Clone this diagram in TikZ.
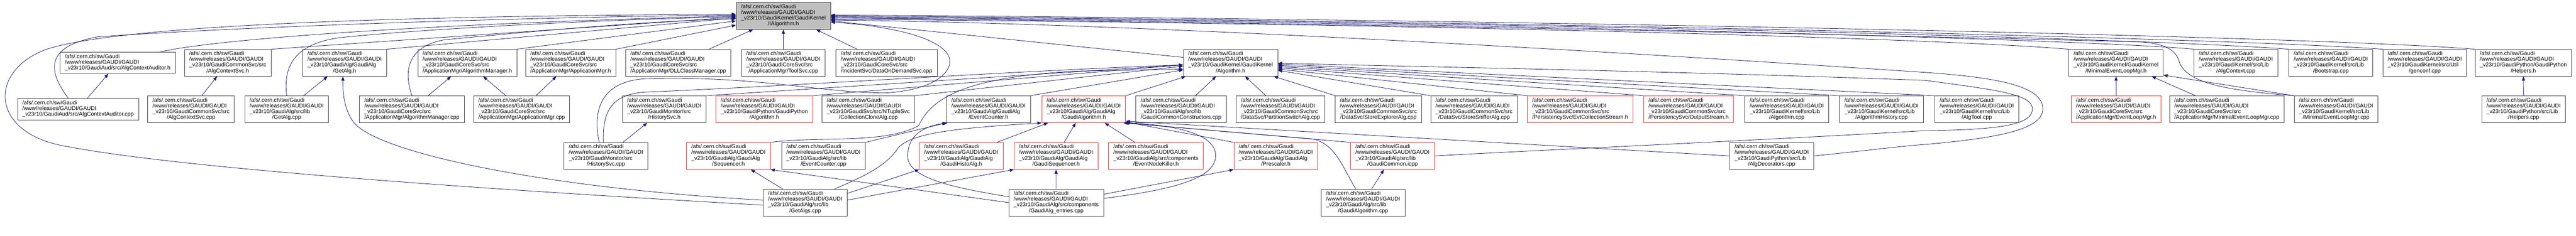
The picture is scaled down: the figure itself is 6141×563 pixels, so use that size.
\documentclass[tikz,border=0pt]{standalone}
\usepackage{fontspec}
\setmainfont{Liberation Sans}
\usetikzlibrary{arrows.meta}
\definecolor{edgeblue}{HTML}{191970}
\definecolor{rootgrey}{HTML}{BFBFBF}
\definecolor{truncred}{HTML}{FF3030}
\newcommand{\gpath}[2]{\begin{tabular}{@{}l@{}}/afs/.cern.ch/sw/Gaudi\\/www/releases/GAUDI/GAUDI\\\_v23r10/#1\\\multicolumn{1}{@{}c@{}}{#2}\end{tabular}}
\newcommand{\gpathshort}[1]{\begin{tabular}{@{}l@{}}/afs/.cern.ch/sw/Gaudi\\/www/releases/GAUDI/GAUDI\\\_v23r10/#1\end{tabular}}
\tikzset{
  file/.style={draw=black!75, line width=1pt, fill=white, minimum height=64pt, inner xsep=11.5pt, inner ysep=0pt, font=\fontsize{13.2}{13.7}\selectfont},
  shortfile/.style={file, minimum height=51pt},
  rootfile/.style={file, fill=rootgrey},
  truncfile/.style={file, draw=truncred},
  dep/.style={draw=edgeblue, line width=1pt, -{Triangle[length=10pt,width=7.5pt]}},
}
\begin{document}
\begin{tikzpicture}[x=1pt,y=-1pt]
      \useasboundingbox (0,0) rectangle (6141,563);
      \node[rootfile] (ialg) at (1867.5,38) {\gpath{GaudiKernel/GaudiKernel}{/IAlgorithm.h}};
      % row 1
      \node[shortfile] (acaudh) at (280.5,150) {\gpathshort{GaudiAud/src/AlgContextAuditor.h}};
      \node[file] (acsvch) at (543,150) {\gpath{GaudiCommonSvc/src}{/AlgContextSvc.h}};
      \node[file] (getalgh) at (821.5,150) {\gpath{GaudiAlg/GaudiAlg}{/GetAlg.h}};
      \node[file] (algmgrh) at (1114,150) {\gpath{GaudiCoreSvc/src}{/ApplicationMgr/AlgorithmManager.h}};
      \node[file] (appmgrh) at (1360.5,150) {\gpath{GaudiCoreSvc/src}{/ApplicationMgr/ApplicationMgr.h}};
      \node[file] (dllcls) at (1617,150) {\gpath{GaudiCoreSvc/src}{/ApplicationMgr/DLLClassManager.cpp}};
      \node[file] (toolsvc) at (1867.5,150) {\gpath{GaudiCoreSvc/src}{/ApplicationMgr/ToolSvc.cpp}};
      \node[file] (dataod) at (2113.5,150) {\gpath{GaudiCoreSvc/src}{/IncidentSvc/DataOnDemandSvc.cpp}};
      \node[file] (algh) at (2933.5,150) {\gpath{GaudiKernel/GaudiKernel}{/Algorithm.h}};
      \node[file] (minelmh) at (5044.5,150) {\gpath{GaudiKernel/GaudiKernel}{/MinimalEventLoopMgr.h}};
      \node[file] (algctx) at (5330,150) {\gpath{GaudiKernel/src/Lib}{/AlgContext.cpp}};
      \node[file] (bootstrap) at (5556.5,150) {\gpath{GaudiKernel/src/Lib}{/Bootstrap.cpp}};
      \node[file] (genconf) at (5780.5,150) {\gpath{GaudiKernel/src/Util}{/genconf.cpp}};
      \node[file] (helpersh) at (6015.5,150) {\gpath{GaudiPython/GaudiPython}{/Helpers.h}};
      % row 2
      \node[shortfile] (acaudcpp) at (186,261) {\gpathshort{GaudiAud/src/AlgContextAuditor.cpp}};
      \node[file] (acsvccpp) at (455.5,261) {\gpath{GaudiCommonSvc/src}{/AlgContextSvc.cpp}};
      \node[file] (getalgcpp) at (683.5,261) {\gpath{GaudiAlg/src/lib}{/GetAlg.cpp}};
      \node[file] (algmgrcpp) at (982,261) {\gpath{GaudiCoreSvc/src}{/ApplicationMgr/AlgorithmManager.cpp}};
      \node[file] (appmgrcpp) at (1243.5,261) {\gpath{GaudiCoreSvc/src}{/ApplicationMgr/ApplicationMgr.cpp}};
      \node[file] (histh) at (1583.5,261) {\gpath{GaudiMonitor/src}{/HistorySvc.h}};
      \node[truncfile] (pyalgh) at (1822,261) {\gpath{GaudiPython/GaudiPython}{/Algorithm.h}};
      \node[file] (cloneal) at (2070,261) {\gpath{GaudiSvc/src/NTupleSvc}{/CollectionCloneAlg.cpp}};
      \node[file] (evcnth) at (2356.5,261) {\gpath{GaudiAlg/GaudiAlg}{/EventCounter.h}};
      \node[truncfile] (gaudialgh) at (2583.5,261) {\gpath{GaudiAlg/GaudiAlg}{/GaudiAlgorithm.h}};
      \node[file] (gcommctor) at (2815.5,261) {\gpath{GaudiAlg/src/lib}{/GaudiCommonConstructors.cpp}};
      \node[file] (partsw) at (3052.5,261) {\gpath{GaudiCommonSvc/src}{/DataSvc/PartitionSwitchAlg.cpp}};
      \node[file] (storeexp) at (3286,261) {\gpath{GaudiCommonSvc/src}{/DataSvc/StoreExplorerAlg.cpp}};
      \node[file] (storesnf) at (3514,261) {\gpath{GaudiCommonSvc/src}{/DataSvc/StoreSnifferAlg.cpp}};
      \node[truncfile] (evtcolh) at (3767,261) {\gpath{GaudiCommonSvc/src}{/PersistencySvc/EvtCollectionStream.h}};
      \node[truncfile] (outstrh) at (4025.5,261) {\gpath{GaudiCommonSvc/src}{/PersistencySvc/OutputStream.h}};
      \node[file] (algcpp) at (4259.5,261) {\gpath{GaudiKernel/src/Lib}{/Algorithm.cpp}};
      \node[file] (alghist) at (4485.5,261) {\gpath{GaudiKernel/src/Lib}{/AlgorithmHistory.cpp}};
      \node[file] (algtool) at (4712.5,261) {\gpath{GaudiKernel/src/Lib}{/AlgTool.cpp}};
      \node[truncfile] (evlmh) at (5044.5,261) {\gpath{GaudiCoreSvc/src}{/ApplicationMgr/EventLoopMgr.h}};
      \node[file] (minelmcore) at (5308.5,261) {\gpath{GaudiCoreSvc/src}{/ApplicationMgr/MinimalEventLoopMgr.cpp}};
      \node[file] (minelmkern) at (5569,261) {\gpath{GaudiKernel/src/Lib}{/MinimalEventLoopMgr.cpp}};
      \node[file] (helperscpp) at (6016,261) {\gpath{GaudiPython/src/Lib}{/Helpers.cpp}};
      % row 3
      \node[file] (histcpp) at (1444.5,372.5) {\gpath{GaudiMonitor/src}{/HistorySvc.cpp}};
      \node[truncfile] (seqh) at (1736.5,372.5) {\gpath{GaudiAlg/GaudiAlg}{/Sequencer.h}};
      \node[file] (evcntcpp) at (1963,372.5) {\gpath{GaudiAlg/src/lib}{/EventCounter.cpp}};
      \node[truncfile] (histoalgh) at (2291.5,372.5) {\gpath{GaudiAlg/GaudiAlg}{/GaudiHistoAlg.h}};
      \node[truncfile] (gseqh) at (2517.5,372.5) {\gpath{GaudiAlg/GaudiAlg}{/GaudiSequencer.h}};
      \node[truncfile] (evnkh) at (2755.5,372.5) {\gpath{GaudiAlg/src/components}{/EventNodeKiller.h}};
      \node[truncfile] (presch) at (3041.5,372.5) {\gpath{GaudiAlg/GaudiAlg}{/Prescaler.h}};
      \node[truncfile] (gcommicpp) at (3319.5,372.5) {\gpath{GaudiAlg/src/lib}{/GaudiCommon.icpp}};
      \node[file] (algdeco) at (4223.5,372.5) {\gpath{GaudiPython/src/Lib}{/AlgDecorators.cpp}};
      % row 4
      \node[file] (getalgscpp) at (1919.5,484) {\gpath{GaudiAlg/src/lib}{/GetAlgs.cpp}};
      \node[file] (entries) at (2518,484) {\gpath{GaudiAlg/src/components}{/GaudiAlg\_entries.cpp}};
      \node[file] (gaudialgcpp) at (3249.5,484) {\gpath{GaudiAlg/src/lib}{/GaudiAlgorithm.cpp}};
      % into IAlgorithm.h from the left
      \draw[dep] ([yshift=-6pt]getalgscpp.west) .. controls (1200,455) and (450,405) .. (160,350) .. controls (-25,320) and (-30,170) .. (110,118) .. controls (280,62) and (900,38) .. ([yshift=4pt]ialg.west);
      \draw[dep] ([xshift=-23pt]acaudcpp.north) .. controls (118,175) and (100,112) .. (233,88) .. controls (600,62) and (1300,40) .. ([yshift=2pt]ialg.west);
      \draw[dep] ([xshift=-36pt]acaudh.north east) .. controls (480,100) and (900,60) .. (ialg.west);
      \draw[dep] (acsvch.north east) to ([yshift=-3pt]ialg.west);
      \draw[dep] (getalgcpp.north) .. controls (675,160) and (700,105) .. (810,90) .. controls (1000,70) and (1400,48) .. ([yshift=-2pt]ialg.west);
      \draw[dep] (getalgh.north east) to ([yshift=-5pt]ialg.west);
      \draw[dep] (algmgrcpp.north) .. controls (960,165) and (975,110) .. (1060,95) .. controls (1300,72) and (1550,50) .. ([yshift=-7pt]ialg.west);
      \draw[dep] (algmgrh.north east) to ([yshift=-12pt]ialg.west);
      \draw[dep] (appmgrh.north east) to ([yshift=-22pt]ialg.west);
      % into IAlgorithm.h from below
      \draw[dep] ([xshift=73pt]dllcls.north) to ([xshift=-72pt]ialg.south);
      \draw[dep] (toolsvc) to (ialg);
      \draw[dep] ([xshift=-70pt]dataod.north) to ([xshift=78pt]ialg.south);
      % into IAlgorithm.h from the right
      \draw[dep] ([yshift=13pt]algh.west) to ([yshift=-12pt]ialg.east);
      \draw[dep] ([xshift=-16pt]histcpp.north) .. controls (1410,255) and (1440,193) .. (1540,188) .. controls (1800,180) and (1960,222) .. (2110,222) .. controls (2230,215) and (2275,170) .. (2262,135) .. controls (2240,85) and (2100,60) .. ([yshift=-15pt]ialg.east);
      \draw[dep] (helpersh.north west) .. controls (5500,85) and (3500,45) .. ([yshift=2pt]ialg.east);
      \draw[dep] (genconf.north west) .. controls (5300,90) and (3500,48) .. (ialg.east);
      \draw[dep] (bootstrap.north west) .. controls (5100,90) and (3500,50) .. ([yshift=-2pt]ialg.east);
      \draw[dep] (algctx.north west) .. controls (5000,95) and (3500,52) .. ([yshift=-4pt]ialg.east);
      \draw[dep] (minelmh.north west) .. controls (4600,90) and (3300,55) .. ([yshift=-8pt]ialg.east);
      \draw[dep] (minelmkern.north west) .. controls (5290,215) and (5215,195) .. (5196,150) .. controls (5188,118) and (5160,104) .. (5100,100) .. controls (4500,85) and (3000,50) .. ([yshift=-6pt]ialg.east);
      \draw[dep] (algdeco.east) .. controls (4450,360) and (4520,350) .. (4590,345) .. controls (4760,330) and (4870,310) .. (4870,260) .. controls (4870,205) and (4760,185) .. (4590,173) .. controls (3800,120) and (2700,55) .. ([yshift=-10pt]ialg.east);
      % into Algorithm.h
      \draw[dep] ([xshift=-6pt]histcpp.north) .. controls (1436,270) and (1455,224) .. (1540,220) .. controls (1900,205) and (2400,170) .. ([yshift=-5pt]algh.west);
      \draw[dep] (histh.north east) to ([yshift=-5pt]algh.west);
      \draw[dep] (pyalgh.north east) to ([yshift=-5pt]algh.west);
      \draw[dep] (cloneal.north east) to ([yshift=-8pt]algh.west);
      \draw[dep] (evcnth.north east) to ([yshift=-17pt]algh.west);
      \draw[dep] (seqh.north east) .. controls (1950,325) and (2110,345) .. (2190,300) .. controls (2225,225) and (2320,185) .. (2560,170) -- ([yshift=-15pt]algh.west);
      \draw[dep] (gaudialgh.north east) to ([xshift=6pt]algh.south west);
      \draw[dep] (gcommctor) to (algh);
      \draw[dep] (partsw) to (algh);
      \draw[dep] (storeexp) to (algh);
      \draw[dep] (storesnf.north west) to ([yshift=-18pt]algh.east);
      \draw[dep] (evtcolh.north west) to ([yshift=-15pt]algh.east);
      \draw[dep] (outstrh.north west) to ([yshift=-12pt]algh.east);
      \draw[dep] (algcpp.north west) to ([yshift=-9pt]algh.east);
      \draw[dep] (alghist.north west) to ([yshift=-6pt]algh.east);
      \draw[dep] (algtool.north west) to ([yshift=-3pt]algh.east);
      \draw[dep] (gcommicpp.east) .. controls (3600,362) and (4200,335) .. (4590,312) .. controls (4760,310) and (4845,300) .. (4845,260) .. controls (4845,225) and (4760,215) .. (4590,192) .. controls (4000,170) and (3400,160) .. ([yshift=-1pt]algh.east);
      % into GaudiAlgorithm.h
      \draw[dep] (histoalgh) to (gaudialgh);
      \draw[dep] (gseqh) to (gaudialgh);
      \draw[dep] (evnkh) to (gaudialgh);
      \draw[dep] (presch.north west) to ([yshift=2pt]gaudialgh.south east);
      \draw[dep] (gcommicpp.north west) to ([xshift=-3pt]gaudialgh.south east);
      \draw[dep] (algdeco.west) to ([yshift=4pt]gaudialgh.south east);
      \draw[dep] ([xshift=-17pt]gaudialgcpp.north) .. controls (3200,400) and (3185,345) .. (3130,332) -- ([xshift=-6pt]gaudialgh.south east);
      \draw[dep] ([yshift=10pt]entries.east) .. controls (2780,455) and (2898,430) .. (2898,372) .. controls (2898,318) and (2800,300) .. ([yshift=1pt]gaudialgh.south east);
      \draw[dep] ([xshift=70pt]getalgscpp.north) .. controls (2050,425) and (2110,400) .. (2140,355) .. controls (2170,315) and (2300,305) .. (gaudialgh.south west);
      % remaining includes
      \draw[dep] ([yshift=20pt]entries.east) to (presch.south west);
      \draw[dep] (entries) to (gseqh);
      \draw[dep] ([yshift=14pt]entries.west) .. controls (2250,445) and (2150,420) .. (2165,360) .. controls (2170,318) and (2210,300) .. ([xshift=3pt]evcnth.south west);
      \draw[dep] (entries.west) to (seqh.south east);
      \draw[dep] (getalgscpp) to (seqh);
      \draw[dep] ([yshift=22pt]getalgscpp.east) to (histoalgh.south west);
      \draw[dep] ([yshift=6pt]getalgscpp.east) to (gseqh.south west);
      \draw[dep] ([yshift=6pt]getalgscpp.west) .. controls (1300,450) and (900,365) .. (843,292) .. controls (820,262) and (817,220) .. ([xshift=-4pt]getalgh.south);
      \draw[dep] (evcntcpp.north east) to (evcnth.south west);
      \draw[dep] (gaudialgcpp) to (gcommicpp);
      \draw[dep] (histcpp) to (histh);
      \draw[dep] (acaudcpp) to (acaudh);
      \draw[dep] (acsvccpp) to (acsvch);
      \draw[dep] (getalgcpp) to (getalgh);
      \draw[dep] (algmgrcpp) to (algmgrh);
      \draw[dep] (appmgrcpp) to (algmgrh);
      \draw[dep] (appmgrcpp) to (appmgrh);
      \draw[dep] (evlmh) to (minelmh);
      \draw[dep] ([xshift=-75pt]minelmcore.north) to ([xshift=85pt]minelmh.south);
      \draw[dep] (minelmkern.north west) to ([yshift=3pt]minelmh.south east);
      \draw[dep] (helperscpp) to (helpersh);
    \end{tikzpicture}
\end{document}
